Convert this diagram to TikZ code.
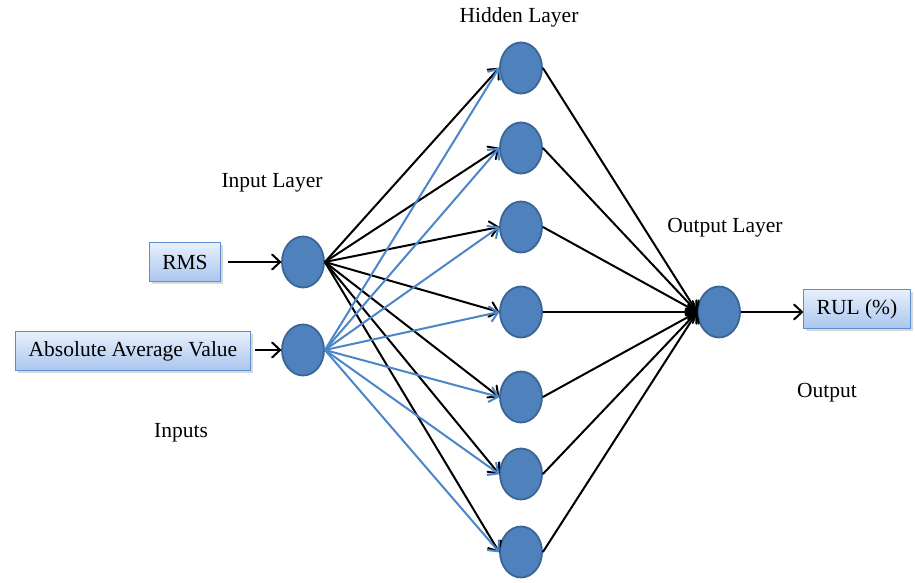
\documentclass[tikz,border=0pt]{standalone}
\usepackage{fontspec}
\setmainfont{Liberation Serif}
\usetikzlibrary{arrows.meta,shadows,shapes.geometric}
\definecolor{nodeblue}{HTML}{4F81BD}
\definecolor{nodeedge}{HTML}{3A6596}
\definecolor{boxedge}{HTML}{5B8FD0}
\definecolor{edgeblue}{HTML}{4A86C8}
\definecolor{boxtop}{RGB}{232,240,252}
\definecolor{boxbot}{RGB}{170,198,238}
\begin{document}
\begin{tikzpicture}[x=1pt,y=-1pt,
  every node/.style={font=\fontsize{21.5}{25}\selectfont},
  neuron/.style={ellipse,draw=nodeedge,line width=1.8pt,fill=nodeblue,minimum width=42pt,minimum height=51pt,inner sep=0pt},
  inbox/.style={draw=boxedge,line width=1.4pt,top color=boxtop,bottom color=boxbot,
     drop shadow={shadow xshift=2.5pt,shadow yshift=-2.5pt,opacity=0.3},minimum height=39pt,inner xsep=13pt},
  tip/.style={-{Straight Barb[length=8pt,width=15pt,line width=2pt,round]}},
  bedge/.style={black,line width=2pt,tip},
  uedge/.style={edgeblue,line width=2pt,tip},
  lbl/.style={inner sep=0pt}]
\useasboundingbox (0,0) rectangle (915,583);
% nodes
\node[neuron] (i1) at (303,262) {};
\node[neuron] (i2) at (303,350) {};
\foreach \i/\y in {1/68,2/148,3/227,4/312,5/397,6/474,7/552}
  \node[neuron] (h\i) at (521,\y) {};
\node[neuron] (o) at (719,312) {};
\node[inbox] (rms) at (185,262) {RMS};
\node[inbox] (aav) at (133,351) {Absolute Average Value};
\node[inbox] (rul) at (857,309) {RUL (\%)};
% labels
\node[lbl] (lh) at (519,17) {Hidden Layer};
\node[lbl] (li) at (272,183) {Input Layer};
\node[lbl] (lo) at (725,228) {Output Layer};
\node[lbl] (lout) at (827,393) {Output};
\node[lbl] (lin) at (181,433) {Inputs};
% connectors
\foreach \i in {1,...,7} \draw[bedge] (i1.east) -- (h\i.west);
\foreach \i in {1,...,7} \draw[uedge] (i2.east) -- (h\i.west);
\foreach \i in {1,...,7} \draw[bedge] (h\i.east) -- (o.west);
\draw[bedge] (rms.east) ++(7pt,0) coordinate (rs) -- (i1.west);
\draw[bedge] (aav.east |- i2.west) ++(4pt,0) coordinate (as) -- (i2.west);
\draw[bedge] (o.east) -- (rul.west |- o.east);
\end{tikzpicture}
\end{document}
